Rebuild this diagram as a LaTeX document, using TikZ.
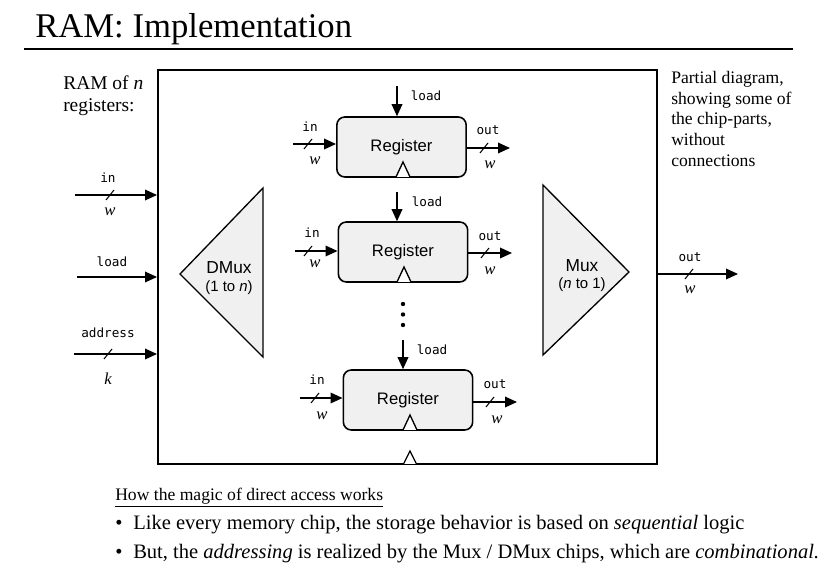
\documentclass[tikz,border=0pt]{standalone}
\usepackage{fontspec}
\setmainfont{Liberation Serif}
\setsansfont{Liberation Sans}
\setmonofont{DejaVu Sans Mono}
\usepackage{tikz}
\usetikzlibrary{arrows.meta,positioning}
\definecolor{ChipGray}{RGB}{240,240,240}

\tikzset{
  wire/.style={-{Triangle[length=9pt,width=8pt]},line width=1pt},
  regbox/.style={rectangle,rounded corners=6pt,draw,line width=1.2pt,fill=ChipGray,
    minimum width=97pt,minimum height=45pt,font=\sffamily\fontsize{12.5}{14}\selectfont},
  chip/.style={draw,line width=1pt,fill=ChipGray,line join=miter},
  clk/.style={draw,line width=1pt,fill=white},
  pin/.style={font=\ttfamily\fontsize{9.5}{11}\selectfont,inner sep=0pt},
  wid/.style={font=\itshape\fontsize{12.5}{13}\selectfont,inner sep=0pt},
  note/.style={align=left,inner sep=0pt,anchor=north west},
  body/.style={anchor=base west,inner sep=0pt,font=\fontsize{15.4}{18}\selectfont},
}
\newcommand{\busslash}[2]{\draw[line width=0.8pt] (#1,#2) ++(-4,5) -- ++(8,-10);}

\begin{document}
\begin{tikzpicture}[x=0.75pt,y=-0.75pt]
    \useasboundingbox (0,0) rectangle (840,577);

    % title
    \node[anchor=base west,inner sep=0pt,font=\fontsize{26}{30}\selectfont] (title) at (35,38) {RAM: Implementation};
    \draw[line width=1.5pt] (24,49) -- (793,49);

    \node[note,font=\fontsize{14.6}{16.5}\selectfont] (ramof) at (63,76) {RAM of \textit{n}\\registers:};
    \node[note,font=\fontsize{13.2}{15.5}\selectfont] (partial) at (671,71) {Partial diagram,\\showing some of\\the chip-parts,\\without\\connections};

    % the RAM chip
    \draw[line width=1.2pt] (158,70) rectangle (657,464);
    \draw[clk] (403.5,464) -- ++(6.5,-13) -- ++(6.5,13);

    % inputs of the RAM
    \coordinate (ramin) at (75,195);
    \coordinate (ramload) at (77,277);
    \coordinate (ramaddr) at (74,354);
    \draw[wire] (ramin) -- (157,195);
    \draw[wire] (ramload) -- (157,277);
    \draw[wire] (ramaddr) -- (157,354);
    \busslash{110}{195}
    \busslash{108}{354}
    \node[pin] (raminl) at (108,178) {in};
    \node[wid] (raminw) at (110,212) {w};
    \node[pin] (ramloadl) at (112,262) {load};
    \node[pin] (ramaddrl) at (108,333) {address};
    \node[wid] (ramaddrk) at (108,379) {k};

    % output of the RAM
    \coordinate (ramout) at (738,274);
    \draw[wire] (657,274) -- (ramout);
    \busslash{689}{274}
    \node[pin] (ramoutl) at (690,257) {out};
    \node[wid] (ramoutw) at (690,290) {w};

    % DMux and Mux
    \draw[chip] (263,188) -- (263,357) -- (180,274) -- cycle;
    \node[font=\sffamily\fontsize{13}{14}\selectfont] (dmux) at (229,268) {DMux};
    \node[font=\sffamily\fontsize{11.2}{12}\selectfont,inner sep=0pt] (dmuxn) at (229,288) {(1 to \textit{n})};
    \draw[chip] (543,185) -- (629,272) -- (543,355) -- cycle;
    \node[font=\sffamily\fontsize{13}{14}\selectfont] (mux) at (582,266) {Mux};
    \node[font=\sffamily\fontsize{11.2}{12}\selectfont,inner sep=0pt] (muxn) at (582,285) {(\textit{n} to 1)};

    % register 1
    \node[regbox] (reg1) at (401.5,147) {Register};
    \draw[clk] (396,177) -- ++(7,-15) -- ++(7,15);
    \coordinate (reg1ld) at (397,86);
    \coordinate (reg1in) at (293,144);
    \coordinate (reg1out) at (510,148);
    \draw[wire] (reg1ld) -- (reg1ld|-reg1.north);
    \draw[wire] (reg1in) -- (reg1in-|reg1.west);
    \draw[wire] (reg1out-|reg1.east) -- (reg1out);
    \busslash{308}{144}
    \busslash{484}{148}
    \node[pin] (reg1ldl) at (426,96) {load};
    \node[pin] (reg1inl) at (310,127) {in};
    \node[wid] (reg1inw) at (315,161) {w};
    \node[pin] (reg1outl) at (488,130) {out};
    \node[wid] (reg1outw) at (490,165) {w};

    % register 2
    \node[regbox] (reg2) at (403,252) {Register};
    \draw[clk] (397,282) -- ++(7,-15) -- ++(7,15);
    \coordinate (reg2ld) at (397,192);
    \coordinate (reg2in) at (295,251);
    \coordinate (reg2out) at (512,253);
    \draw[wire] (reg2ld) -- (reg2ld|-reg2.north);
    \draw[wire] (reg2in) -- (reg2in-|reg2.west);
    \draw[wire] (reg2out-|reg2.east) -- (reg2out);
    \busslash{308}{251}
    \busslash{485}{253}
    \node[pin] (reg2ldl) at (427,202) {load};
    \node[pin] (reg2inl) at (312,233) {in};
    \node[wid] (reg2inw) at (315,264) {w};
    \node[pin] (reg2outl) at (490,236) {out};
    \node[wid] (reg2outw) at (490,271) {w};

    % dots
    \fill (403,304) circle (2.2) (403,314.5) circle (2.2) (403,325) circle (2.2);

    % register n
    \node[regbox] (reg3) at (408,400) {Register};
    \draw[clk] (403,430) -- ++(7,-15) -- ++(7,15);
    \coordinate (reg3ld) at (403,340);
    \coordinate (reg3in) at (300,398);
    \coordinate (reg3out) at (517,402);
    \draw[wire] (reg3ld) -- (reg3ld|-reg3.north);
    \draw[wire] (reg3in) -- (reg3in-|reg3.west);
    \draw[wire] (reg3out-|reg3.east) -- (reg3out);
    \busslash{315}{398}
    \busslash{490}{402}
    \node[pin] (reg3ldl) at (432,350) {load};
    \node[pin] (reg3inl) at (317,380) {in};
    \node[wid] (reg3inw) at (322,416) {w};
    \node[pin] (reg3outl) at (495,384) {out};
    \node[wid] (reg3outw) at (497,420) {w};

    % how it works
    \node[body,font=\fontsize{13.2}{16}\selectfont] (howto) at (115,501) {\underline{How the magic of direct access works}};
    \node[body,anchor=base] (bul1) at (119,530) {•};
    \node[body] (line1) at (133,530) {Like every memory chip, the storage behavior is based on \textit{sequential} logic};
    \node[body,anchor=base] (bul2) at (119,558) {•};
    \node[body] (line2) at (133,558) {But, the \textit{addressing} is realized by the Mux / DMux chips, which are \textit{combinational.}};
\end{tikzpicture}
\end{document}
